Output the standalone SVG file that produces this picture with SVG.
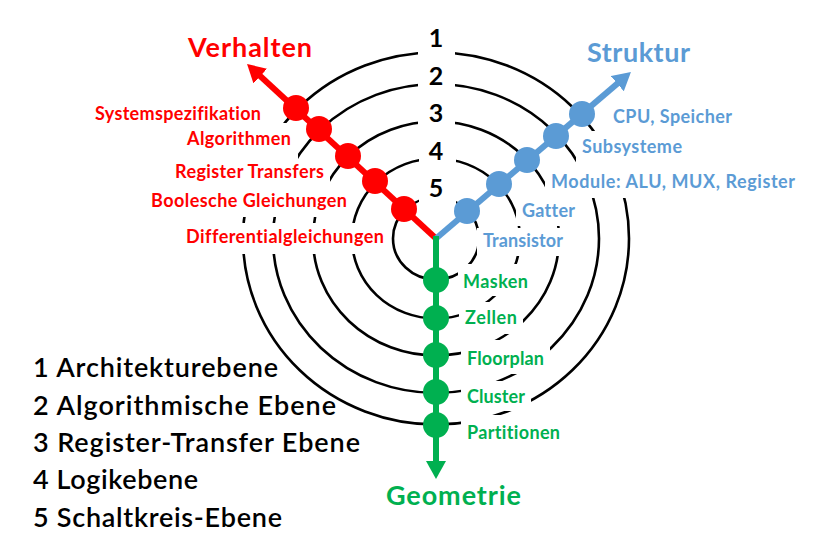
<svg xmlns="http://www.w3.org/2000/svg" width="827" height="557" viewBox="0 0 827 557">
<style>
text{font-variant-ligatures:none;font-feature-settings:"liga" 0,"clig" 0,"dlig" 0}
.ring{fill:none;stroke:#000;stroke-width:2.6}
.mask{fill:#fff}
.lbl{font-family:Lato,"Liberation Sans",sans-serif;font-weight:bold;font-size:18px}
.red{fill:#FF0000}
.blue{fill:#5B9BD5}
.green{fill:#00B050}
.title{font-family:Lato,"Liberation Sans",sans-serif;font-weight:bold;font-size:27px}
.num{font-family:Lato,"Liberation Sans",sans-serif;font-weight:bold;font-size:25px;fill:#000;text-anchor:middle}
.legend{font-family:Lato,"Liberation Sans",sans-serif;font-weight:600;font-size:27px;fill:#000}
</style>
<defs>
<marker id="ahR" viewBox="0 -10 20 20" refX="2" refY="0" markerWidth="20" markerHeight="20" markerUnits="userSpaceOnUse" orient="auto"><path d="M0,-10 L18,0 L0,10 z" fill="#FF0000"/></marker>
<marker id="ahB" viewBox="0 -10 20 20" refX="2" refY="0" markerWidth="20" markerHeight="20" markerUnits="userSpaceOnUse" orient="auto"><path d="M0,-10 L18,0 L0,10 z" fill="#5B9BD5"/></marker>
<marker id="ahG" viewBox="0 -10 20 20" refX="2" refY="0" markerWidth="20" markerHeight="20" markerUnits="userSpaceOnUse" orient="auto"><path d="M0,-10 L18,0 L0,10 z" fill="#00B050"/></marker>
</defs>
<rect width="827" height="557" fill="#fff"/>
<g id="rings">
<ellipse class="ring" cx="436" cy="238.5" rx="193" ry="186"/>
<ellipse class="ring" cx="436" cy="238.5" rx="163" ry="154.5"/>
<ellipse class="ring" cx="436" cy="238.5" rx="123" ry="117"/>
<ellipse class="ring" cx="436" cy="238.5" rx="84" ry="80"/>
<ellipse class="ring" cx="436" cy="238.5" rx="43" ry="41"/>
</g>
<g id="masks">
<rect class="mask" x="418" y="24" width="37" height="36"/>
<rect class="mask" x="418" y="62" width="37" height="34"/>
<rect class="mask" x="418" y="100" width="37" height="34"/>
<rect class="mask" x="419" y="138" width="37" height="32"/>
<rect class="mask" x="419" y="176" width="37" height="30"/>
<rect class="mask" x="90" y="96" width="178" height="30"/>
<rect class="mask" x="182" y="123" width="116" height="38"/>
<rect class="mask" x="170" y="161" width="160" height="29"/>
<rect class="mask" x="146" y="190" width="206" height="27"/>
<rect class="mask" x="181" y="223" width="209" height="31"/>
<rect class="mask" x="607" y="100" width="131" height="30"/>
<rect class="mask" x="576" y="131" width="112" height="34"/>
<rect class="mask" x="545" y="165" width="255" height="33"/>
<rect class="mask" x="516" y="198" width="66" height="28"/>
<rect class="mask" x="477" y="228" width="93" height="28"/>
<rect class="mask" x="458" y="264" width="76" height="32"/>
<rect class="mask" x="459" y="302" width="64" height="32"/>
<rect class="mask" x="461" y="340" width="89" height="34"/>
<rect class="mask" x="461" y="381" width="70" height="30"/>
<rect class="mask" x="461" y="415" width="105" height="33"/>
</g>
<g id="connectors">
<line x1="436" y1="238.5" x2="258.8" y2="74.8" stroke="#FF0000" stroke-width="6" marker-end="url(#ahR)"/>
<line x1="436" y1="238.5" x2="618.8" y2="82.4" stroke="#5B9BD5" stroke-width="6" marker-end="url(#ahB)"/>
<line x1="436" y1="236" x2="436" y2="463" stroke="#00B050" stroke-width="6" marker-end="url(#ahG)"/>
</g>
<g id="verhalten">
<text class="title red" x="188" y="57" textLength="124">Verhalten</text>
<g id="r1"><circle class="red" cx="296" cy="108" r="13"/><text class="lbl red" x="95" y="120" textLength="166">Systemspezifikation</text></g>
<g id="r2"><circle class="red" cx="319" cy="129" r="13"/><text class="lbl red" x="187" y="145" textLength="104">Algorithmen</text></g>
<g id="r3"><circle class="red" cx="348" cy="156" r="13"/><text class="lbl red" x="175" y="178" textLength="149">Register Transfers</text></g>
<g id="r4"><circle class="red" cx="375" cy="181" r="13"/><text class="lbl red" x="151" y="207" textLength="196">Boolesche Gleichungen</text></g>
<g id="r5"><circle class="red" cx="404" cy="209" r="13"/><text class="lbl red" x="186" y="243" textLength="198">Differentialgleichungen</text></g>
</g>
<g id="struktur">
<text class="title blue" x="587" y="62" textLength="103">Struktur</text>
<g id="b1"><circle class="blue" cx="582" cy="114" r="13"/><text class="lbl blue" x="613" y="123" textLength="119">CPU, Speicher</text></g>
<g id="b2"><circle class="blue" cx="556" cy="136" r="13"/><text class="lbl blue" x="582" y="153" textLength="100">Subsysteme</text></g>
<g id="b3"><circle class="blue" cx="527" cy="160" r="13"/><text class="lbl blue" x="551" y="188" textLength="244">Module: ALU, MUX, Register</text></g>
<g id="b4"><circle class="blue" cx="499" cy="184" r="13"/><text class="lbl blue" x="522" y="217" textLength="53">Gatter</text></g>
<g id="b5"><circle class="blue" cx="467" cy="211" r="13"/><text class="lbl blue" x="483" y="247" textLength="80">Transistor</text></g>
</g>
<g id="geometrie">
<text class="title green" x="386" y="505" textLength="135">Geometrie</text>
<g id="g1"><circle class="green" cx="436" cy="280" r="13"/><text class="lbl green" x="463" y="288" textLength="65">Masken</text></g>
<g id="g2"><circle class="green" cx="436" cy="318" r="13"/><text class="lbl green" x="465" y="324" textLength="52">Zellen</text></g>
<g id="g3"><circle class="green" cx="436" cy="355" r="13"/><text class="lbl green" x="467" y="365" textLength="77">Floorplan</text></g>
<g id="g4"><circle class="green" cx="436" cy="392" r="13"/><text class="lbl green" x="467" y="403" textLength="58">Cluster</text></g>
<g id="g5"><circle class="green" cx="436" cy="425" r="13"/><text class="lbl green" x="467" y="439" textLength="93">Partitionen</text></g>
</g>
<g id="levels">
<text class="num" x="436" y="47">1</text>
<text class="num" x="436" y="85">2</text>
<text class="num" x="436" y="122">3</text>
<text class="num" x="436" y="160">4</text>
<text class="num" x="436" y="197">5</text>
</g>
<g id="legend">
<text class="legend" x="33" y="377" textLength="245">1 Architekturebene</text>
<text class="legend" x="33" y="415" textLength="303">2 Algorithmische Ebene</text>
<text class="legend" x="33" y="452" textLength="327">3 Register-Transfer Ebene</text>
<text class="legend" x="33" y="489" textLength="165">4 Logikebene</text>
<text class="legend" x="33" y="527" textLength="249">5 Schaltkreis-Ebene</text>
</g>
</svg>
